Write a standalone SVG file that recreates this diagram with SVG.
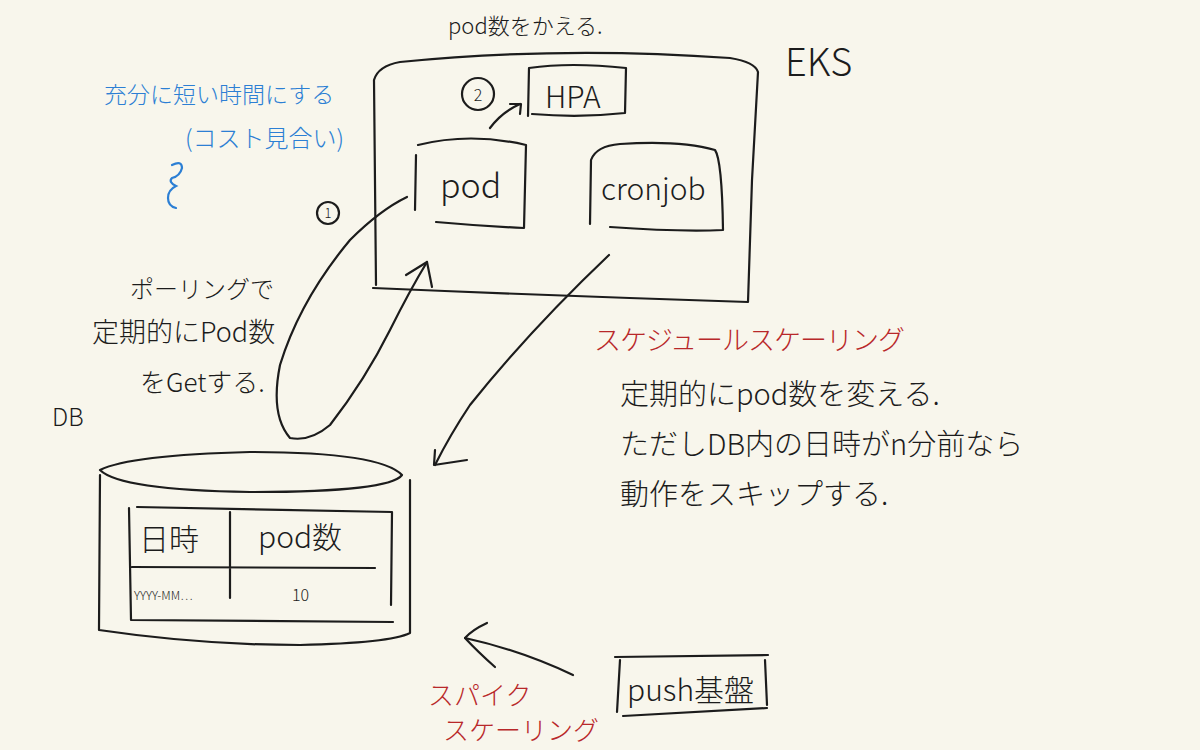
<svg xmlns="http://www.w3.org/2000/svg" width="1200" height="750" viewBox="0 0 1200 750">
<defs>
<style>
.ln{fill:none;stroke:#1c1c1c;stroke-width:2.2;stroke-linecap:round;stroke-linejoin:round}
.bl{fill:none;stroke:#2c7fd4;stroke-width:2.2;stroke-linecap:round}
.t{font-family:"Noto Sans CJK JP","Noto Sans",sans-serif;fill:#1c1c1c;font-weight:300}
.r{font-family:"Noto Sans CJK JP","Noto Sans",sans-serif;fill:#b8282a;font-weight:300}
.b{font-family:"Noto Sans CJK JP","Noto Sans",sans-serif;fill:#2c7fd4;font-weight:300}
</style>
</defs>
<rect width="1200" height="750" fill="#f8f6ec"/>

<text class="t" x="448" y="34" font-size="22">pod数をかえる.</text>

<g id="eks">
<path class="ln" d="M376 285 L374 80 Q378 66 400 62 Q560 46 730 58 Q755 62 758 72 L752 180 L748 302 Q560 296 373 288"/>
<text class="t" x="785" y="76" font-size="38">EKS</text>
</g>

<g id="hpa">
<path class="ln" d="M528 116 L529 68 Q570 62 626 68 L625 113 Q580 118 532 114"/>
<text class="t" x="545" y="108" font-size="30">HPA</text>
</g>

<g id="step2">
<circle class="ln" cx="478" cy="94" r="16"/>
<text class="t" x="478" y="101" font-size="16" text-anchor="middle">2</text>
</g>

<g id="pod">
<path class="ln" d="M416 155 L415 210 M418 145 Q470 132 526 145 L524 228 Q480 226 436 222"/>
<text class="t" x="440" y="198" font-size="34">pod</text>
</g>

<g id="cronjob">
<path class="ln" d="M590 224 L591 160 Q596 146 620 144 Q680 140 715 150 Q722 160 723 230 Q680 232 610 227"/>
<text class="t" x="601" y="200" font-size="30">cronjob</text>
</g>

<g id="step1">
<circle class="ln" cx="328" cy="213" r="11"/>
<text class="t" x="328" y="218" font-size="13" text-anchor="middle">1</text>
</g>

<g id="db">
<text class="t" x="52" y="426" font-size="24">DB</text>
<path class="ln" d="M100 470 Q130 455 250 452 Q380 452 402 475 Q390 492 250 492 Q120 490 100 470 Z"/>
<path class="ln" d="M100 475 L99 630 Q200 645 300 645 Q390 643 410 633 L410 480"/>
<path class="ln" d="M137 507 L392 512 L391 605 M129 508 L131 620 L393 622 M132 567 L375 568 M230 512 L230 598"/>
<text class="t" x="139" y="550" font-size="30">日時</text>
<text class="t" x="258" y="548" font-size="30">pod数</text>
<text class="t" x="134" y="600" font-size="12">YYYY-MM…</text>
<text class="t" x="292" y="601" font-size="16">10</text>
</g>

<g id="push">
<path class="ln" d="M615 657 L768 655 M765 660 L767 705 M620 660 L617 712 M623 716 L767 708"/>
<text class="t" x="627" y="701" font-size="30">push基盤</text>
</g>

<g id="connectors">
<path class="ln" d="M490 128 Q502 112 520 104 M510 104 L521 104 L520 114"/>
<path class="ln" d="M407 197 Q380 210 350 240 Q300 300 280 365 Q270 415 290 438 Q310 442 330 425 Q365 380 390 330 Q410 290 427 262"/>
<path class="ln" d="M406 275 L427 262 L432 287"/>
<path class="ln" d="M609 255 Q530 330 470 405 Q450 435 435 465"/>
<path class="ln" d="M435 450 L434 465 L467 460"/>
<path class="ln" d="M573 675 Q520 650 465 638"/>
<path class="ln" d="M487 623 Q472 630 465 638 Q478 652 495 667"/>
</g>

<g id="notes">
<text class="b" x="104" y="103" font-size="23">充分に短い時間にする</text>
<text class="b" x="185" y="147" font-size="24">(コスト見合い)</text>
<path class="bl" d="M172 165 Q182 160 182 168 Q180 176 172 178 Q168 182 176 186 Q168 190 168 198 Q168 206 176 208"/>
<text class="t" x="130" y="298" font-size="24">ポーリングで</text>
<text class="t" x="92" y="342" font-size="27">定期的にPod数</text>
<text class="t" x="140" y="392" font-size="26">をGetする.</text>
<text class="r" x="594" y="350" font-size="27" letter-spacing="-1">スケジュールスケーリング</text>
<text class="t" x="620" y="405" font-size="29">定期的にpod数を変える.</text>
<text class="t" x="620" y="455" font-size="29">ただしDB内の日時がn分前なら</text>
<text class="t" x="620" y="505" font-size="29">動作をスキップする.</text>
<text class="r" x="428" y="705" font-size="26">スパイク</text>
<text class="r" x="443" y="740" font-size="26">スケーリング</text>
</g>
</svg>
